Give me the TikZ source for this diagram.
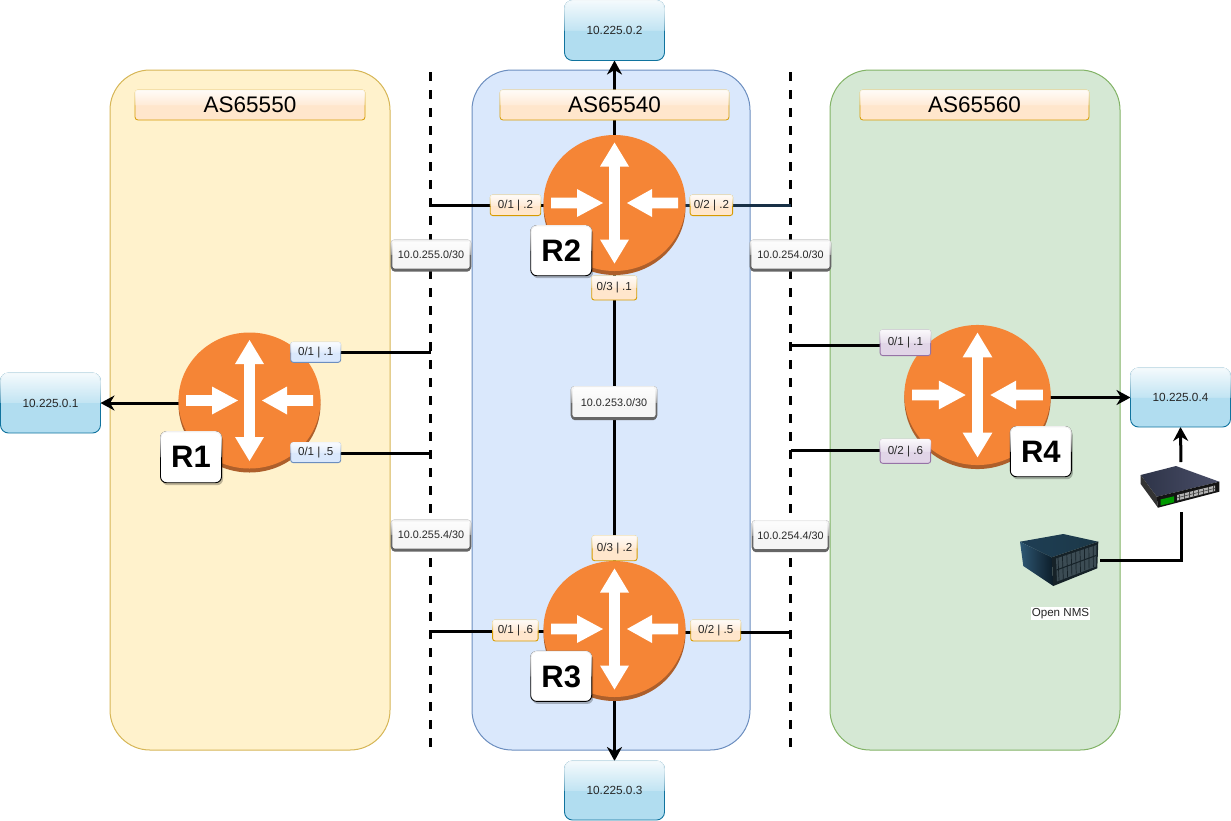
\documentclass[tikz,border=0pt]{standalone}
\usepackage{fontspec}
\setmainfont{Liberation Sans}
\usetikzlibrary{arrows.meta,shapes.geometric,shadows,fadings,calc}
\pgfdeclarelayer{areas}\pgfdeclarelayer{links}
\pgfsetlayers{areas,links,main}
\definecolor{routerorange}{HTML}{F58536}
\definecolor{routerdark}{HTML}{AD5F2B}
\definecolor{orangeline}{HTML}{D79B00}
\definecolor{orangefill}{HTML}{FFE6CC}
\definecolor{blueline}{HTML}{6C8EBF}
\definecolor{bluefill}{HTML}{DAE8FC}
\definecolor{purpleline}{HTML}{9673A6}
\definecolor{purplefill}{HTML}{E1D5E7}
\definecolor{greyline}{HTML}{666666}
\definecolor{greyfill}{HTML}{F5F5F5}
\definecolor{cloudline}{HTML}{10739E}
\definecolor{cloudfill}{HTML}{B1DDF0}
\definecolor{yellowline}{HTML}{D6B656}
\definecolor{yellowfill}{HTML}{FFF2CC}
\definecolor{greenline}{HTML}{82B366}
\definecolor{greenfill}{HTML}{D5E8D4}
\definecolor{navylink}{HTML}{183046}
\definecolor{swdark}{HTML}{2E3448}
\definecolor{swlight}{HTML}{8C8EAC}
\definecolor{swright}{HTML}{4A4E68}
\definecolor{srvtopa}{HTML}{1E3E54}
\definecolor{srvtopb}{HTML}{1C3848}
\definecolor{srvtopm}{HTML}{7694A6}
\definecolor{srvlefta}{HTML}{2E5874}
\definecolor{srvleftb}{HTML}{0C1C28}
\definecolor{srvfront}{HTML}{162228}
\definecolor{srvbay}{HTML}{3C4C54}
\pgfdeclareverticalshading{glassmask}{100bp}{color(0bp)=(black);color(50bp)=(black);color(50.2bp)=(white!22!black);color(75bp)=(white!88!black);color(100bp)=(white!88!black)}
\pgfdeclarefading{glassfade}{\pgfuseshading{glassmask}}
\tikzset{
  area/.style={rounded corners=40pt,inner sep=0pt,line width=1pt},
  glass/.style={postaction={draw=white,fill=white,path fading=glassfade,fit fading=true}},
  bx/.style 2 args={minimum width=#1 pt,minimum height=#2 pt,inner sep=0pt,outer sep=0pt},
  astitle/.style={draw=orangeline,fill=orangefill,rounded corners=3pt,glass,font=\fontsize{22.5}{24}\selectfont,line width=.8pt},
  port/.style={rounded corners=2.5pt,line width=.9pt,glass,font=\fontsize{11.6}{13}\selectfont,text=black!85},
  portorange/.style={port,draw=orangeline,fill=orangefill},
  portblue/.style={port,draw=blueline,fill=bluefill},
  portpurple/.style={port,draw=purpleline,fill=purplefill},
  subnet/.style={draw=greyline,fill=greyfill,rounded corners=3pt,line width=1.8pt,
     drop shadow={shadow xshift=0pt,shadow yshift=-2pt,fill=greyline,opacity=1},
     glass,font=\fontsize{10.8}{13}\selectfont,text=black!85},
  cloudbox/.style={draw=cloudline,fill=cloudfill,rounded corners=8pt,line width=.9pt,glass,
     font=\fontsize{11.8}{14}\selectfont,text=black!85},
  rname/.style={draw=black,fill=white,rounded corners=6pt,line width=.9pt,
     drop shadow={shadow xshift=1.5pt,shadow yshift=-2.5pt,fill=black,opacity=.25},
     glass,font=\bfseries\fontsize{31}{32}\selectfont},
  link/.style={line width=3pt,draw=black},
  linkarrow/.style={link,-{Stealth[length=14pt,width=15pt,inset=4.5pt]}},
  boundary/.style={line width=3pt,dash pattern=on 8.5pt off 9.5pt,dash phase=0pt},
  routerbody/.style={ellipse,inner sep=0pt,outer sep=0pt,minimum width=142pt*#1,minimum height=136pt*#1},
}
\newcommand{\routerdraw}[4]{%
  \node[routerbody=#4,fill=routerdark] at (#2,#3+4) {};
  \node[routerbody=#4,fill=routerorange] (#1) at (#2,#3) {};
  \begin{scope}[shift={(#2,#3)},scale=#4]
    \fill[white] (0,-60.5)--(14.5,-36.5)--(5.3,-36.5)--(5.3,36.5)--(14.5,36.5)--(0,60.5)--(-14.5,36.5)--(-5.3,36.5)--(-5.3,-36.5)--(-14.5,-36.5)--cycle;
    \fill[white] (-63.5,-5.3)--(-37.5,-5.3)--(-37.5,-14)--(-11.5,0)--(-37.5,14)--(-37.5,5.3)--(-63.5,5.3)--cycle;
    \fill[white] (63.5,-5.3)--(37.5,-5.3)--(37.5,-14)--(12.5,0)--(37.5,14)--(37.5,5.3)--(63.5,5.3)--cycle;
  \end{scope}}
\begin{document}
\begin{tikzpicture}[x=1pt,y=-1pt]
\useasboundingbox (0,0) rectangle (1231,820);
\begin{pgfonlayer}{areas}
  \node[bx={280}{680},area,draw=yellowline,fill=yellowfill] (as1) at (250,410) {};
  \node[bx={278}{680},area,draw=blueline,fill=bluefill] (as2) at (611,410) {};
  \node[bx={290}{680},area,draw=greenline,fill=greenfill] (as3) at (975,410) {};
\end{pgfonlayer}

% AS titles
\node[astitle,bx={230}{30}] (t1) at (250,105) {AS65550};
\node[astitle,bx={229}{30}] (t2) at (614.5,105) {AS65540};
\node[astitle,bx={229}{30}] (t3) at (974.5,105) {AS65560};

% Routers
\routerdraw{r1}{249.5}{400.5}{1}
\routerdraw{r2}{614.5}{203}{1}
\routerdraw{r3}{614.5}{629}{1}
\routerdraw{r4}{977.5}{395}{1.03}

% Router names
\node[rname,bx={61}{50}] (n2) at (561.2,250.7) {R2};
\node[rname,bx={61}{51}] (n1) at (191,457.2) {R1};
\node[rname,bx={61}{50}] (n3) at (561.2,676.4) {R3};
\node[rname,bx={61}{50}] (n4) at (1040.8,451.7) {R4};

% Cloud boxes
\node[cloudbox,bx={100}{60}] (c1) at (50.5,403) {10.225.0.1};
\node[cloudbox,bx={100}{60}] (c2) at (614.5,30.5) {10.225.0.2};
\node[cloudbox,bx={100}{59}] (c3) at (614.5,790.5) {10.225.0.3};
\node[cloudbox,bx={100}{59}] (c4) at (1180.5,397.5) {10.225.0.4};

% Port labels
\node[portblue,bx={50}{20}] (p1a) at (315.7,352.3) {0/1 | .1};
\node[portblue,bx={50}{20}] (p1b) at (315.7,452.6) {0/1 | .5};
\node[portorange,bx={50.5}{20.5}] (p2a) at (515.5,205.3) {0/1 | .2};
\node[portorange,bx={42.5}{20.5}] (p2b) at (711.4,205.3) {0/2 | .2};
\node[portorange,bx={45}{24}] (p2c) at (614.2,288) {0/3 | .1};
\node[portorange,bx={45}{25}] (p3c) at (614.6,548.2) {0/3 | .2};
\node[portorange,bx={45.5}{21}] (p3a) at (515.4,630.5) {0/1 | .6};
\node[portorange,bx={50}{21}] (p3b) at (715.7,630.5) {0/2 | .5};
\node[portpurple,bx={50.5}{25.5}] (p4a) at (905.4,342.8) {0/1 | .1};
\node[portpurple,bx={50.5}{24}] (p4b) at (905.4,451.3) {0/2 | .6};

% Subnet labels
\node[subnet,bx={79}{29}] (s1) at (431,255) {10.0.255.0/30};
\node[subnet,bx={79}{29}] (s2) at (431,535) {10.0.255.4/30};
\node[subnet,bx={80}{29}] (s3) at (790.5,255) {10.0.254.0/30};
\node[subnet,bx={76}{29}] (s4) at (790.5,535.5) {10.0.254.4/30};
\node[subnet,bx={85}{31}] (s5) at (614,402.5) {10.0.253.0/30};

% Switch icon
\node[bx={80}{42}] (sw) at (1181,487) {};
\shade[left color=swdark,middle color=swlight,right color=swright]
  (1140.7,475)--(1176,466)--(1219.3,481.7)--(1156.7,496.7)--cycle;
\fill[black!80] (1140.7,475)--(1156.7,496.7)--(1158,507.7)--(1140.7,484)--cycle;
\fill[black!92] (1156.7,496.7)--(1219.3,481.7)--(1219.3,491.7)--(1158,507.7)--cycle;
\fill[green!60!black] (1160.5,499.5)--(1174,496.3)--(1174,502.3)--(1160.5,505.5)--cycle;
\fill[black!30] (1177,495)--(1215,485.5)--(1215,491)--(1177,500.5)--cycle;
\foreach \k in {0,...,7}{\draw[black!75,line width=.6pt] (1179+4.9*\k,494.6-1.2*\k)--(1179+4.9*\k,500-1.2*\k);}
\draw[black!75,line width=.6pt] (1177,497.8)--(1215,488.3);

% Server icon
\node[bx={80}{53}] (srv) at (1060,560) {};
\shade[left color=srvtopa,middle color=srvtopm,right color=srvtopb]
  (1020,541.7)--(1063.3,534)--(1098.3,541.7)--(1051.7,557.3)--cycle;
\shade[left color=srvlefta,right color=srvleftb]
  (1020,541.7)--(1051.7,557.3)--(1053.3,586)--(1023.3,566)--cycle;
\fill[srvfront] (1051.7,557.3)--(1098.3,541.7)--(1097.3,568.3)--(1053.3,586)--cycle;
\fill[srvbay] (1056,558.5)--(1096.5,545)--(1096,566.5)--(1057,581.5)--cycle;
\foreach \k in {0,...,8}{\draw[srvfront,line width=.7pt] (1058+4.4*\k,557.6-1.5*\k)--(1059+4.3*\k,580.5-1.7*\k);}
\draw[srvfront,line width=1pt] (1056.5,570)--(1096,555.5);

\node[fill=white,inner sep=1pt,font=\fontsize{11.6}{13}\selectfont,text=black!85] (nms) at (1060.5,613.5) {Open NMS};

% Links
\begin{pgfonlayer}{links}
  \coordinate (b1t) at (430.5,72);   \coordinate (b1b) at (430.5,748);
  \coordinate (b2t) at (790.5,72);   \coordinate (b2b) at (790.5,750);
  \draw[boundary] (b1t) -- (b1b);
  \draw[boundary] (b2t) -- (b2b);
  \coordinate (e1a) at (430.5,352.5);
  \coordinate (e1b) at (430.5,453);
  \coordinate (e2a) at (430.5,205);
  \coordinate (e2b) at (790.5,205);
  \coordinate (e3a) at (430.5,631.5);
  \coordinate (e3b) at (790.5,632);
  \coordinate (e4a) at (790.5,345.5);
  \coordinate (e4b) at (790.5,450.5);
  \draw[link] (r1 |- e1a) -- (e1a);
  \draw[link] (r1 |- e1b) -- (e1b);
  \draw[link] (e2a) -- (r2 |- e2a);
  \draw[link,draw=navylink] (r2 |- e2b) -- (e2b);
  \draw[link] (e3a) -- (r3 |- e3a);
  \draw[link] (r3 |- e3b) -- (e3b);
  \draw[link,line width=3.6pt] (e4a) -- (r4 |- e4a);
  \draw[link] (e4b) -- (r4 |- e4b);
  \draw[link] (r2) -- (r3);
  \draw[linkarrow] (r1 |- c1.east) -- (c1.east);
  \draw[linkarrow] (r2) -- (c2.south);
  \draw[linkarrow] (r3) -- (c3.north);
  \draw[linkarrow] (r4 |- c4.west) -- (c4.west);
  \draw[link,shorten <=4pt,-{Stealth[length=14pt,width=15pt,inset=4.5pt]}] (sw.north) -- (c4.south);
  \draw[link,shorten >=4pt] (srv.east) -| (sw.south);
\end{pgfonlayer}
\end{tikzpicture}
\end{document}
